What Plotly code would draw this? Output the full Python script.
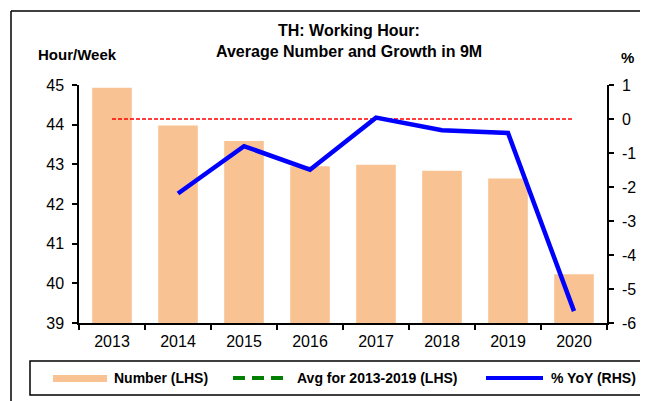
import plotly.graph_objects as go

# ---------------- data ----------------
years = ["2013", "2014", "2015", "2016", "2017", "2018", "2019", "2020"]
hours_per_week = [44.93, 43.98, 43.59, 42.95, 42.99, 42.84, 42.64, 40.23]
yoy_pct = [None, -2.19, -0.80, -1.49, 0.04, -0.33, -0.41, -5.65]
zero_ref = [0, 0, 0, 0, 0, 0, 0, 0]
left_ticks = [39, 40, 41, 42, 43, 44, 45]
right_ticks = [-6, -5, -4, -3, -2, -1, 0, 1]
legend_labels = ["Number (LHS)", "Avg for 2013-2019 (LHS)", "% YoY (RHS)"]
title_lines = ["TH: Working Hour:", "Average Number and Growth in 9M"]

# ---------------- layout helpers ----------------
W, H = 648, 401
L, R, T, B = 71, 49, 77, 86
PW, PH = W - L - R, H - T - B
def px_x(px):
    return (px - L) / PW
def px_y(py):
    return (H - B - py) / PH

FONT = "Liberation Sans, Arial, sans-serif"
BAR_COLOR = "#F9C292"

fig = go.Figure()
fig.add_trace(go.Bar(x=years, y=hours_per_week, marker=dict(color=BAR_COLOR, line=dict(width=0)),
                     width=0.6, name=legend_labels[0], yaxis="y"))
fig.add_trace(go.Scatter(x=years, y=zero_ref, mode="lines", yaxis="y2",
                         line=dict(color="#FF0000", width=1.5, dash="4px,2px"), showlegend=False))
fig.add_trace(go.Scatter(x=years, y=yoy_pct, mode="lines", yaxis="y2", name=legend_labels[2],
                         line=dict(color="#0000FF", width=4.5)))

axis_common = dict(showgrid=False, zeroline=False, showline=True, linecolor="black", linewidth=1.5,
                   ticks="outside", ticklen=5, tickwidth=1.5, tickcolor="black",
                   tickfont=dict(family=FONT, size=16, color="black"))

fig.update_layout(
    width=W, height=H,
    margin=dict(l=L, r=R, t=T, b=B, pad=0),
    paper_bgcolor="white", plot_bgcolor="white",
    showlegend=False,
    font=dict(family=FONT, color="black"),
    xaxis=dict(type="category", range=[-0.5, 7.5], tickson="boundaries", ticklabelstandoff=3, **axis_common),
    yaxis=dict(range=[39, 45], tickvals=left_ticks, ticktext=[str(v) for v in left_ticks],
               ticklabelstandoff=5, **axis_common),
    yaxis2=dict(range=[-6, 1], tickvals=right_ticks, ticktext=[str(v) for v in right_ticks],
                overlaying="y", side="right", ticklabelstandoff=5, **axis_common),
)

annotations = [
    dict(text="<b>" + title_lines[0] + "</b>", x=px_x(341), y=px_y(23)),
    dict(text="<b>" + title_lines[1] + "</b>", x=px_x(341), y=px_y(43)),
]
for a in annotations:
    a.update(xref="paper", yref="paper", xanchor="center", yanchor="middle", showarrow=False,
             font=dict(family=FONT, size=16, color="black"))
annotations.append(dict(text="<b>Hour/Week</b>", x=px_x(28), y=px_y(46), xref="paper", yref="paper",
                        xanchor="left", yanchor="middle", showarrow=False,
                        font=dict(family=FONT, size=15, color="black")))
annotations.append(dict(text="<b>%</b>", x=px_x(619), y=px_y(50), xref="paper", yref="paper",
                        xanchor="center", yanchor="middle", showarrow=False,
                        font=dict(family=FONT, size=15, color="black")))

# custom legend
leg_y = px_y(370)
leg_text_x = [104, 287, 541]
for lbl, tx in zip(legend_labels, leg_text_x):
    annotations.append(dict(text="<b>" + lbl + "</b>", x=px_x(tx), y=leg_y, xref="paper", yref="paper",
                            xanchor="left", yanchor="middle", showarrow=False,
                            font=dict(family=FONT, size=14, color="black")))

shapes = [
    # legend box
    dict(type="rect", xref="paper", yref="paper", x0=px_x(22), x1=px_x(641), y0=px_y(387), y1=px_y(353),
         line=dict(color="black", width=1.5), fillcolor="rgba(0,0,0,0)"),
    # legend symbols
    dict(type="rect", xref="paper", yref="paper", x0=px_x(45), x1=px_x(99), y0=px_y(374), y1=px_y(367),
         line=dict(width=0), fillcolor=BAR_COLOR),
    dict(type="line", xref="paper", yref="paper", x0=px_x(225), x1=px_x(277), y0=leg_y, y1=leg_y,
         line=dict(color="#008000", width=4, dash="12px,7px")),
    dict(type="line", xref="paper", yref="paper", x0=px_x(478), x1=px_x(535), y0=leg_y, y1=leg_y,
         line=dict(color="#0000FF", width=4)),
    # outer frame (top and left)
    dict(type="line", xref="paper", yref="paper", x0=px_x(3), x1=px_x(642), y0=px_y(3), y1=px_y(3),
         line=dict(color="black", width=1.5)),
    dict(type="line", xref="paper", yref="paper", x0=px_x(3), x1=px_x(3), y0=px_y(3), y1=px_y(410),
         line=dict(color="black", width=1.5)),
]

fig.update_layout(annotations=annotations, shapes=shapes)
fig.write_html("out.html")
